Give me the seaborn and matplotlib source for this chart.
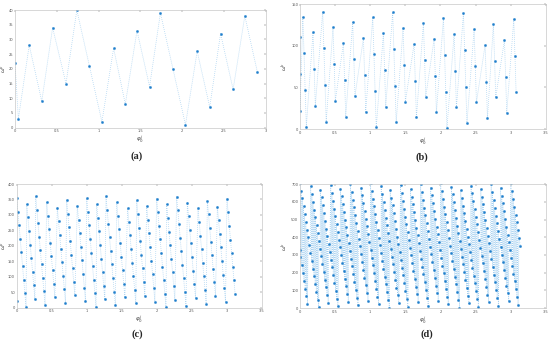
import numpy as np
import matplotlib
matplotlib.use("Agg")
import matplotlib.pyplot as plt
import seaborn as sns

# --- panel (a) ---
a_x = [0.00, 0.04, 0.17, 0.32, 0.45, 0.61, 0.74, 0.89, 1.04, 1.18, 1.32,
       1.46, 1.61, 1.74, 1.89, 2.04, 2.18, 2.33, 2.46, 2.61, 2.75, 2.90]
a_y = [22, 3, 28, 9, 34, 15, 40, 21, 2, 27, 8, 33, 14, 39, 20, 1, 26, 7,
       32, 13, 38, 19]

# --- panel (b): one list per descending group ---
b_x = [[0, 0, 0], [0.040, 0.057, 0.073, 0.090], [0.185, 0.202, 0.218],
       [0.323, 0.340, 0.356, 0.373], [0.470, 0.487, 0.503], [0.618, 0.635, 0.651],
       [0.750, 0.767, 0.783], [0.903, 0.920, 0.936], [1.036, 1.053, 1.069, 1.086],
       [1.188, 1.205, 1.221], [1.320, 1.337, 1.353, 1.370], [1.468, 1.485, 1.501],
       [1.625, 1.642, 1.658], [1.758, 1.775, 1.791], [1.910, 1.927, 1.943],
       [2.043, 2.060, 2.076, 2.093], [2.195, 2.212, 2.228], [2.328, 2.345, 2.361, 2.378],
       [2.480, 2.497, 2.513], [2.637, 2.654, 2.670], [2.755, 2.772, 2.788],
       [2.912, 2.929, 2.945], [3.045, 3.062, 3.078]]
b_y = [[110, 66, 22], [135, 91, 47, 3], [116, 72, 28], [141, 97, 53, 9],
       [122, 78, 34], [103, 59, 15], [128, 84, 40], [109, 65, 21],
       [134, 90, 46, 2], [115, 71, 27], [140, 96, 52, 8], [121, 77, 33],
       [102, 58, 14], [127, 83, 39], [108, 64, 20], [133, 89, 45, 1],
       [114, 70, 26], [139, 95, 51, 7], [120, 76, 32], [101, 57, 13],
       [126, 82, 38], [107, 63, 19], [132, 88, 44]]

# --- panel (c) ---
c_x = [[0.000],
       [0.000, 0.017, 0.033, 0.050, 0.066, 0.083, 0.100, 0.116, 0.133],
       [0.143, 0.160, 0.176, 0.193, 0.209, 0.226, 0.243, 0.259],
       [0.271, 0.288, 0.304, 0.321, 0.337, 0.354, 0.371, 0.387, 0.404],
       [0.428, 0.445, 0.461, 0.478, 0.494, 0.511, 0.528, 0.544],
       [0.580, 0.597, 0.613, 0.630, 0.646, 0.663, 0.680, 0.696],
       [0.713, 0.730, 0.746, 0.763, 0.779, 0.796, 0.813, 0.829],
       [0.865, 0.882, 0.898, 0.915, 0.931, 0.948, 0.965, 0.981],
       [0.999, 1.016, 1.032, 1.049, 1.065, 1.082, 1.099, 1.115, 1.132],
       [1.141, 1.158, 1.174, 1.191, 1.207, 1.224, 1.241, 1.257],
       [1.274, 1.291, 1.307, 1.324, 1.340, 1.357, 1.374, 1.390, 1.407],
       [1.427, 1.444, 1.460, 1.477, 1.493, 1.510, 1.527, 1.543],
       [1.583, 1.600, 1.616, 1.633, 1.649, 1.666, 1.683, 1.699],
       [1.712, 1.729, 1.745, 1.762, 1.778, 1.795, 1.812, 1.828],
       [1.855, 1.872, 1.888, 1.905, 1.921, 1.938, 1.955, 1.971],
       [1.997, 2.014, 2.030, 2.047, 2.063, 2.080, 2.097, 2.113, 2.130],
       [2.140, 2.157, 2.173, 2.190, 2.206, 2.223, 2.240, 2.256],
       [2.282, 2.299, 2.315, 2.332, 2.348, 2.365, 2.382, 2.398, 2.415],
       [2.435, 2.452, 2.468, 2.485, 2.501, 2.518, 2.535, 2.551],
       [2.587, 2.604, 2.620, 2.637, 2.653, 2.670, 2.687, 2.703],
       [2.720, 2.737, 2.753, 2.770, 2.786, 2.803, 2.820, 2.836],
       [2.863, 2.880, 2.896, 2.913, 2.929, 2.946, 2.963, 2.979],
       [3.000, 3.017, 3.033, 3.050, 3.066, 3.083, 3.100, 3.116]]
c_y = [[22],
       [355, 311, 267, 223, 179, 135, 91, 47, 3],
       [336, 292, 248, 204, 160, 116, 72, 28],
       [361, 317, 273, 229, 185, 141, 97, 53, 9],
       [342, 298, 254, 210, 166, 122, 78, 34],
       [323, 279, 235, 191, 147, 103, 59, 15],
       [348, 304, 260, 216, 172, 128, 84, 40],
       [329, 285, 241, 197, 153, 109, 65, 21],
       [354, 310, 266, 222, 178, 134, 90, 46, 2],
       [335, 291, 247, 203, 159, 115, 71, 27],
       [360, 316, 272, 228, 184, 140, 96, 52, 8],
       [341, 297, 253, 209, 165, 121, 77, 33],
       [322, 278, 234, 190, 146, 102, 58, 14],
       [347, 303, 259, 215, 171, 127, 83, 39],
       [328, 284, 240, 196, 152, 108, 64, 20],
       [353, 309, 265, 221, 177, 133, 89, 45, 1],
       [334, 290, 246, 202, 158, 114, 70, 26],
       [359, 315, 271, 227, 183, 139, 95, 51, 7],
       [340, 296, 252, 208, 164, 120, 76, 32],
       [321, 277, 233, 189, 145, 101, 57, 13],
       [346, 302, 258, 214, 170, 126, 82, 38],
       [327, 283, 239, 195, 151, 107, 63, 19],
       [352, 308, 264, 220, 176, 132, 88, 44]]

# --- panel (d) ---
d_x = [[0.000, 0.006, 0.023, 0.040, 0.056, 0.073, 0.090, 0.106],
       [0.000, 0.017, 0.033, 0.050, 0.066, 0.083, 0.100, 0.116, 0.133, 0.149, 0.166, 0.183, 0.199, 0.216, 0.232, 0.249, 0.266],
       [0.152, 0.169, 0.185, 0.202, 0.218, 0.235, 0.252, 0.268, 0.285, 0.301, 0.318, 0.335, 0.351, 0.368, 0.384, 0.401],
       [0.290, 0.307, 0.323, 0.340, 0.356, 0.373, 0.390, 0.406, 0.423, 0.439, 0.456, 0.473, 0.489, 0.506, 0.522, 0.539],
       [0.438, 0.455, 0.471, 0.488, 0.504, 0.521, 0.538, 0.554, 0.571, 0.587, 0.604, 0.621, 0.637, 0.654, 0.670, 0.687],
       [0.576, 0.593, 0.609, 0.626, 0.642, 0.659, 0.676, 0.692, 0.709, 0.725, 0.742, 0.759, 0.775, 0.792, 0.808, 0.825],
       [0.719, 0.736, 0.752, 0.769, 0.785, 0.802, 0.819, 0.835, 0.852, 0.868, 0.885, 0.902, 0.918, 0.935, 0.951, 0.968],
       [0.871, 0.888, 0.904, 0.921, 0.937, 0.954, 0.971, 0.987, 1.004, 1.020, 1.037, 1.054, 1.070, 1.087, 1.103, 1.120],
       [1.005, 1.022, 1.038, 1.055, 1.071, 1.088, 1.105, 1.121, 1.138, 1.154, 1.171, 1.188, 1.204, 1.221, 1.237, 1.254, 1.271],
       [1.157, 1.174, 1.190, 1.207, 1.223, 1.240, 1.257, 1.273, 1.290, 1.306, 1.323, 1.340, 1.356, 1.373, 1.389, 1.406],
       [1.286, 1.303, 1.319, 1.336, 1.352, 1.369, 1.386, 1.402, 1.419, 1.435, 1.452, 1.469, 1.485, 1.502, 1.518, 1.535],
       [1.433, 1.450, 1.466, 1.483, 1.499, 1.516, 1.533, 1.549, 1.566, 1.582, 1.599, 1.616, 1.632, 1.649, 1.665, 1.682],
       [1.576, 1.593, 1.609, 1.626, 1.642, 1.659, 1.676, 1.692, 1.709, 1.725, 1.742, 1.759, 1.775, 1.792, 1.808, 1.825],
       [1.719, 1.736, 1.752, 1.769, 1.785, 1.802, 1.819, 1.835, 1.852, 1.868, 1.885, 1.902, 1.918, 1.935, 1.951, 1.968],
       [1.862, 1.879, 1.895, 1.912, 1.928, 1.945, 1.962, 1.978, 1.995, 2.011, 2.028, 2.045, 2.061, 2.078, 2.094, 2.111],
       [2.005, 2.022, 2.038, 2.055, 2.071, 2.088, 2.105, 2.121, 2.138, 2.154, 2.171, 2.188, 2.204, 2.221, 2.237, 2.254, 2.271],
       [2.157, 2.174, 2.190, 2.207, 2.223, 2.240, 2.257, 2.273, 2.290, 2.306, 2.323, 2.340, 2.356, 2.373, 2.389, 2.406],
       [2.290, 2.307, 2.323, 2.340, 2.356, 2.373, 2.390, 2.406, 2.423, 2.439, 2.456, 2.473, 2.489, 2.506, 2.522, 2.539],
       [2.438, 2.455, 2.471, 2.488, 2.504, 2.521, 2.538, 2.554, 2.571, 2.587, 2.604, 2.621, 2.637, 2.654, 2.670, 2.687],
       [2.576, 2.593, 2.609, 2.626, 2.642, 2.659, 2.676, 2.692, 2.709, 2.725, 2.742, 2.759, 2.775, 2.792, 2.808, 2.825],
       [2.724, 2.741, 2.757, 2.774, 2.790, 2.807, 2.824, 2.840, 2.857, 2.873, 2.890, 2.907, 2.923, 2.940, 2.956, 2.973],
       [2.857, 2.874, 2.890, 2.907, 2.923, 2.940, 2.957, 2.973, 2.990, 3.006, 3.023, 3.040, 3.056, 3.073, 3.089, 3.106],
       [3.005, 3.022, 3.038, 3.055, 3.071, 3.088, 3.105, 3.121, 3.138]]
d_y = [[330, 286, 242, 198, 154, 110, 66, 22],
       [707, 663, 619, 575, 531, 487, 443, 399, 355, 311, 267, 223, 179, 135, 91, 47, 3],
       [688, 644, 600, 556, 512, 468, 424, 380, 336, 292, 248, 204, 160, 116, 72, 28],
       [669, 625, 581, 537, 493, 449, 405, 361, 317, 273, 229, 185, 141, 97, 53, 9],
       [694, 650, 606, 562, 518, 474, 430, 386, 342, 298, 254, 210, 166, 122, 78, 34],
       [675, 631, 587, 543, 499, 455, 411, 367, 323, 279, 235, 191, 147, 103, 59, 15],
       [700, 656, 612, 568, 524, 480, 436, 392, 348, 304, 260, 216, 172, 128, 84, 40],
       [681, 637, 593, 549, 505, 461, 417, 373, 329, 285, 241, 197, 153, 109, 65, 21],
       [706, 662, 618, 574, 530, 486, 442, 398, 354, 310, 266, 222, 178, 134, 90, 46, 2],
       [687, 643, 599, 555, 511, 467, 423, 379, 335, 291, 247, 203, 159, 115, 71, 27],
       [668, 624, 580, 536, 492, 448, 404, 360, 316, 272, 228, 184, 140, 96, 52, 8],
       [693, 649, 605, 561, 517, 473, 429, 385, 341, 297, 253, 209, 165, 121, 77, 33],
       [674, 630, 586, 542, 498, 454, 410, 366, 322, 278, 234, 190, 146, 102, 58, 14],
       [699, 655, 611, 567, 523, 479, 435, 391, 347, 303, 259, 215, 171, 127, 83, 39],
       [680, 636, 592, 548, 504, 460, 416, 372, 328, 284, 240, 196, 152, 108, 64, 20],
       [705, 661, 617, 573, 529, 485, 441, 397, 353, 309, 265, 221, 177, 133, 89, 45, 1],
       [686, 642, 598, 554, 510, 466, 422, 378, 334, 290, 246, 202, 158, 114, 70, 26],
       [667, 623, 579, 535, 491, 447, 403, 359, 315, 271, 227, 183, 139, 95, 51, 7],
       [692, 648, 604, 560, 516, 472, 428, 384, 340, 296, 252, 208, 164, 120, 76, 32],
       [673, 629, 585, 541, 497, 453, 409, 365, 321, 277, 233, 189, 145, 101, 57, 13],
       [698, 654, 610, 566, 522, 478, 434, 390, 346, 302, 258, 214, 170, 126, 82, 38],
       [679, 635, 591, 547, 503, 459, 415, 371, 327, 283, 239, 195, 151, 107, 63, 19],
       [704, 660, 616, 572, 528, 484, 440, 396, 352]]

panel_labels = ["(a)", "(b)", "(c)", "(d)"]
line_col = "#a3cff0"
mark_col = "#1f7fcc"
frame_col = "#c8c8c8"


def flatten_sorted(xs, ys):
    x = np.concatenate([np.asarray(g, float) for g in xs])
    y = np.concatenate([np.asarray(g, float) for g in ys])
    order = np.argsort(x, kind="mergesort")
    return x[order], y[order]


def draw(ax, x, y, xlim, xticks, ylim, yticks, ylab_x):
    sns.lineplot(x=x, y=y, ax=ax, sort=False, estimator=None, color=line_col,
                 linestyle=":", linewidth=0.55, marker="o", markersize=1.7,
                 markerfacecolor=mark_col, markeredgecolor=mark_col,
                 markeredgewidth=0.2)
    ax.set_xlim(*xlim)
    ax.set_ylim(*ylim)
    ax.set_xticks(xticks)
    ax.set_yticks(yticks)
    ax.set_xticklabels([f"{t:g}" for t in xticks])
    ax.set_yticklabels([f"{t:g}" for t in yticks])
    ax.tick_params(direction="in", top=True, right=True, length=1.5, width=0.3,
                   labelsize=2.6, colors="#555555", pad=1.2)
    for s in ax.spines.values():
        s.set_color(frame_col)
        s.set_linewidth(0.5)
    ax.set_xlabel(r"$\varphi_0^{\,j}$", fontsize=4, color="#444444", labelpad=0.5)
    ax.set_ylabel(r"$\omega^{k}$", fontsize=4, color="#444444")
    ax.yaxis.set_label_coords(ylab_x, 0.5)


sns.set_style("white")
plt.rcParams["font.family"] = ["DejaVu Sans"]

fig = plt.figure(figsize=(5.5, 3.46), dpi=100)
ax_a = fig.add_axes([0.0273, 0.631, 0.4558, 0.340])
ax_b = fig.add_axes([0.5455, 0.627, 0.4467, 0.361])
ax_c = fig.add_axes([0.0304, 0.1107, 0.446, 0.3575])
ax_d = fig.add_axes([0.5455, 0.1098, 0.4467, 0.358])

draw(ax_a, np.array(a_x), np.array(a_y), (0, 3), [0, 0.5, 1, 1.5, 2, 2.5, 3],
     (0, 40), list(range(0, 41, 5)), -0.027)
bx, by = flatten_sorted(b_x, b_y)
draw(ax_b, bx, by, (0, 3.5), [0, 0.5, 1, 1.5, 2, 2.5, 3, 3.5],
     (0, 150), [0, 50, 100, 150], -0.045)
cx, cy = flatten_sorted(c_x, c_y)
draw(ax_c, cx, cy, (0, 3.5), [0, 0.5, 1, 1.5, 2, 2.5, 3, 3.5],
     (0, 400), list(range(0, 401, 50)), -0.035)
dx, dy = flatten_sorted(d_x, d_y)
draw(ax_d, dx, dy, (0, 3.5), [0, 0.5, 1, 1.5, 2, 2.5, 3, 3.5],
     (0, 700), list(range(0, 701, 100)), -0.045)

label_pos = [(0.249, 0.548), (0.767, 0.545), (0.249, 0.035), (0.776, 0.035)]
for lab, (px, py) in zip(panel_labels, label_pos):
    fig.text(px, py, lab, ha="center", va="center", fontsize=7.5,
             fontweight="bold", family=["Liberation Serif", "DejaVu Serif"])

fig.savefig("out.png", dpi=100)
